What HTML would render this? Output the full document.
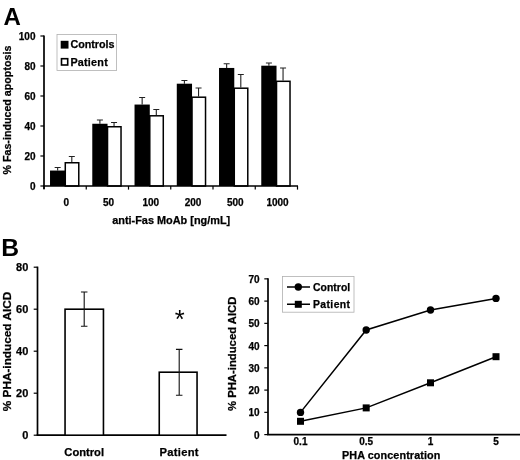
<!DOCTYPE html>
<html><head><meta charset="utf-8"><title>Figure</title>
<style>
html,body{margin:0;padding:0;background:#fff;}
body{width:520px;height:460px;overflow:hidden;}
svg{display:block;}
text{font-family:"Liberation Sans",Arial,sans-serif;font-weight:bold;fill:#000;stroke:#000;stroke-width:0.25px;}
.t10{font-size:10px;}
</style></head><body>
<svg width="520" height="460" viewBox="0 0 520 460">
<rect width="520" height="460" fill="#fff"/>

<text x="3.5" y="25" style="font-size:24px;stroke:none">A</text>
<path d="M57.65 170.55V167.55M54.65 167.55H60.65" stroke="#222" stroke-width="1.1" fill="none"/>
<rect x="50.02" y="170.55" width="15.25" height="15.45" fill="#000"/>
<path d="M71.80 162.00V156.45M68.80 156.45H74.80" stroke="#222" stroke-width="1.1" fill="none"/>
<rect x="65.28" y="162.75" width="13.5" height="23.25" fill="#fff" stroke="#000" stroke-width="1.5"/>
<path d="M99.90 123.75V120.00M96.90 120.00H102.90" stroke="#222" stroke-width="1.1" fill="none"/>
<rect x="92.28" y="123.75" width="15.25" height="62.25" fill="#000"/>
<path d="M114.05 126.00V122.55M111.05 122.55H117.05" stroke="#222" stroke-width="1.1" fill="none"/>
<rect x="107.53" y="126.75" width="13.5" height="59.25" fill="#fff" stroke="#000" stroke-width="1.5"/>
<path d="M142.15 104.55V97.50M139.15 97.50H145.15" stroke="#222" stroke-width="1.1" fill="none"/>
<rect x="134.53" y="104.55" width="15.25" height="81.45" fill="#000"/>
<path d="M156.30 115.05V109.50M153.30 109.50H159.30" stroke="#222" stroke-width="1.1" fill="none"/>
<rect x="149.78" y="115.80" width="13.5" height="70.20" fill="#fff" stroke="#000" stroke-width="1.5"/>
<path d="M184.40 83.70V80.55M181.40 80.55H187.40" stroke="#222" stroke-width="1.1" fill="none"/>
<rect x="176.78" y="83.70" width="15.25" height="102.30" fill="#000"/>
<path d="M198.55 96.45V88.05M195.55 88.05H201.55" stroke="#222" stroke-width="1.1" fill="none"/>
<rect x="192.03" y="97.20" width="13.5" height="88.80" fill="#fff" stroke="#000" stroke-width="1.5"/>
<path d="M226.65 67.95V63.75M223.65 63.75H229.65" stroke="#222" stroke-width="1.1" fill="none"/>
<rect x="219.03" y="67.95" width="15.25" height="118.05" fill="#000"/>
<path d="M240.80 87.45V74.55M237.80 74.55H243.80" stroke="#222" stroke-width="1.1" fill="none"/>
<rect x="234.28" y="88.20" width="13.5" height="97.80" fill="#fff" stroke="#000" stroke-width="1.5"/>
<path d="M268.90 65.70V63.00M265.90 63.00H271.90" stroke="#222" stroke-width="1.1" fill="none"/>
<rect x="261.27" y="65.70" width="15.25" height="120.30" fill="#000"/>
<path d="M283.05 80.55V67.95M280.05 67.95H286.05" stroke="#222" stroke-width="1.1" fill="none"/>
<rect x="276.52" y="81.30" width="13.5" height="104.70" fill="#fff" stroke="#000" stroke-width="1.5"/>
<path d="M44.0 35.4V189.0" stroke="#000" stroke-width="1.7" fill="none"/>
<path d="M43.0 186.0H298.0" stroke="#000" stroke-width="1.6" fill="none"/>
<path d="M40.4 186.0H44.0" stroke="#000" stroke-width="1.2"/>
<text class="t10" x="35.5" y="189.6" text-anchor="end">0</text>
<path d="M40.4 156.0H44.0" stroke="#000" stroke-width="1.2"/>
<text class="t10" x="35.5" y="159.6" text-anchor="end">20</text>
<path d="M40.4 126.0H44.0" stroke="#000" stroke-width="1.2"/>
<text class="t10" x="35.5" y="129.6" text-anchor="end">40</text>
<path d="M40.4 96.0H44.0" stroke="#000" stroke-width="1.2"/>
<text class="t10" x="35.5" y="99.6" text-anchor="end">60</text>
<path d="M40.4 66.0H44.0" stroke="#000" stroke-width="1.2"/>
<text class="t10" x="35.5" y="69.6" text-anchor="end">80</text>
<path d="M40.4 36.0H44.0" stroke="#000" stroke-width="1.2"/>
<text class="t10" x="35.5" y="39.6" text-anchor="end">100</text>
<path d="M44.0 186.0V189.6" stroke="#000" stroke-width="1.2"/>
<path d="M86.25 186.0V189.6" stroke="#000" stroke-width="1.2"/>
<path d="M128.5 186.0V189.6" stroke="#000" stroke-width="1.2"/>
<path d="M170.75 186.0V189.6" stroke="#000" stroke-width="1.2"/>
<path d="M213.0 186.0V189.6" stroke="#000" stroke-width="1.2"/>
<path d="M255.25 186.0V189.6" stroke="#000" stroke-width="1.2"/>
<path d="M297.5 186.0V189.6" stroke="#000" stroke-width="1.2"/>
<text class="t10" x="66.33" y="206.1" text-anchor="middle">0</text>
<text class="t10" x="108.58" y="206.1" text-anchor="middle">50</text>
<text class="t10" x="150.82" y="206.1" text-anchor="middle">100</text>
<text class="t10" x="193.07" y="206.1" text-anchor="middle">200</text>
<text class="t10" x="235.32" y="206.1" text-anchor="middle">500</text>
<text class="t10" x="277.57" y="206.1" text-anchor="middle">1000</text>
<text x="171.2" y="224.4" text-anchor="middle" style="font-size:10.9px">anti-Fas MoAb [ng/mL]</text>
<text transform="translate(10.5,110.1) rotate(-90)" text-anchor="middle" style="font-size:10.7px">% Fas-induced apoptosis</text>
<rect x="57" y="34.4" width="59.6" height="36.1" fill="#fff" stroke="#b0b0b0" stroke-width="0.8"/>
<rect x="60.7" y="40.8" width="7.8" height="7.8" fill="#000"/>
<rect x="61.5" y="58.7" width="6.2" height="6.3" fill="#fff" stroke="#000" stroke-width="1.6"/>
<text x="70.4" y="48.4" style="font-size:10.75px">Controls</text>
<text x="70.4" y="65.6" style="font-size:10.75px;letter-spacing:0.25px">Patient</text>
<text x="1.2" y="255.8" style="font-size:24.7px;stroke:none">B</text>
<path d="M37.5 266.59999999999997V435.2" stroke="#000" stroke-width="1.7" fill="none"/>
<path d="M36.65 435.2H226.5" stroke="#000" stroke-width="1.7" fill="none"/>
<path d="M33.7 435.20H37.5" stroke="#000" stroke-width="1.2"/>
<text x="28.3" y="439.2" text-anchor="end" style="font-size:11px">0</text>
<path d="M33.7 393.20H37.5" stroke="#000" stroke-width="1.2"/>
<text x="28.3" y="397.2" text-anchor="end" style="font-size:11px">20</text>
<path d="M33.7 351.20H37.5" stroke="#000" stroke-width="1.2"/>
<text x="28.3" y="355.2" text-anchor="end" style="font-size:11px">40</text>
<path d="M33.7 309.20H37.5" stroke="#000" stroke-width="1.2"/>
<text x="28.3" y="313.2" text-anchor="end" style="font-size:11px">60</text>
<path d="M33.7 267.20H37.5" stroke="#000" stroke-width="1.2"/>
<text x="28.3" y="271.2" text-anchor="end" style="font-size:11px">80</text>
<rect x="65.05" y="309.20" width="38.40" height="126.00" fill="#fff" stroke="#000" stroke-width="1.6"/>
<path d="M84.20 326.21V291.98M80.95 326.21H87.45M80.95 291.98H87.45" stroke="#111" stroke-width="1.1" fill="none"/>
<text x="84.20" y="456.3" text-anchor="middle" style="font-size:11.2px;letter-spacing:0px">Control</text>
<rect x="159.25" y="372.20" width="37.80" height="63.00" fill="#fff" stroke="#000" stroke-width="1.6"/>
<path d="M179.20 395.19V349.41M175.95 395.19H182.45M175.95 349.41H182.45" stroke="#111" stroke-width="1.1" fill="none"/>
<text x="179.20" y="456.3" text-anchor="middle" style="font-size:11.2px;letter-spacing:0.3px">Patient</text>
<text x="179.6" y="328" text-anchor="middle" style="font-size:25.5px;font-weight:normal;stroke:none">*</text>
<text transform="translate(11.3,351.5) rotate(-90)" text-anchor="middle" style="font-size:11.8px">% PHA-induced AICD</text>
<path d="M268.0 278.25V434.6" stroke="#000" stroke-width="1.7" fill="none"/>
<path d="M267.15 434.6H520" stroke="#000" stroke-width="1.7" fill="none"/>
<path d="M264.3 434.60H268.0" stroke="#000" stroke-width="1.2"/>
<text class="t10" x="259.6" y="438.6" text-anchor="end">0</text>
<path d="M264.3 412.35H268.0" stroke="#000" stroke-width="1.2"/>
<text class="t10" x="259.6" y="416.4" text-anchor="end">10</text>
<path d="M264.3 390.10H268.0" stroke="#000" stroke-width="1.2"/>
<text class="t10" x="259.6" y="394.1" text-anchor="end">20</text>
<path d="M264.3 367.85H268.0" stroke="#000" stroke-width="1.2"/>
<text class="t10" x="259.6" y="371.9" text-anchor="end">30</text>
<path d="M264.3 345.60H268.0" stroke="#000" stroke-width="1.2"/>
<text class="t10" x="259.6" y="349.6" text-anchor="end">40</text>
<path d="M264.3 323.35H268.0" stroke="#000" stroke-width="1.2"/>
<text class="t10" x="259.6" y="327.4" text-anchor="end">50</text>
<path d="M264.3 301.10H268.0" stroke="#000" stroke-width="1.2"/>
<text class="t10" x="259.6" y="305.1" text-anchor="end">60</text>
<path d="M264.3 278.85H268.0" stroke="#000" stroke-width="1.2"/>
<text class="t10" x="259.6" y="282.9" text-anchor="end">70</text>
<polyline fill="none" stroke="#000" stroke-width="1.5" points="300.5,412.4 366.2,330.0 430.5,310.0 496.0,298.4"/>
<polyline fill="none" stroke="#000" stroke-width="1.5" points="300.5,421.2 366.2,407.9 430.5,382.8 496.0,356.7"/>
<circle cx="300.5" cy="412.4" r="3.7" fill="#000"/>
<circle cx="366.2" cy="330.0" r="3.7" fill="#000"/>
<circle cx="430.5" cy="310.0" r="3.7" fill="#000"/>
<circle cx="496.0" cy="298.4" r="3.7" fill="#000"/>
<rect x="297.0" y="417.8" width="7" height="7" fill="#000"/>
<rect x="362.7" y="404.4" width="7" height="7" fill="#000"/>
<rect x="427.0" y="379.3" width="7" height="7" fill="#000"/>
<rect x="492.5" y="353.2" width="7" height="7" fill="#000"/>
<text class="t10" x="300.5" y="445.2" text-anchor="middle">0.1</text>
<text class="t10" x="366.2" y="445.2" text-anchor="middle">0.5</text>
<text class="t10" x="430.5" y="445.2" text-anchor="middle">1</text>
<text class="t10" x="496.0" y="445.2" text-anchor="middle">5</text>
<text x="391.2" y="459" text-anchor="middle" style="font-size:10.8px;letter-spacing:0.1px">PHA concentration</text>
<text transform="translate(236.2,353.8) rotate(-90)" text-anchor="middle" style="font-size:11.3px">% PHA-induced AICD</text>
<rect x="282.4" y="276.5" width="71.6" height="35.7" fill="#fff" stroke="#b0b0b0" stroke-width="0.8"/>
<path d="M287 287H310M287 304.3H310" stroke="#000" stroke-width="1.5"/>
<circle cx="298.3" cy="287" r="3.7" fill="#000"/>
<rect x="294.8" y="300.8" width="7" height="7" fill="#000"/>
<text x="313" y="290.6" style="font-size:10.4px;letter-spacing:0.05px">Control</text>
<text x="313" y="307.9" style="font-size:10.4px;letter-spacing:0.4px">Patient</text>
</svg></body></html>
